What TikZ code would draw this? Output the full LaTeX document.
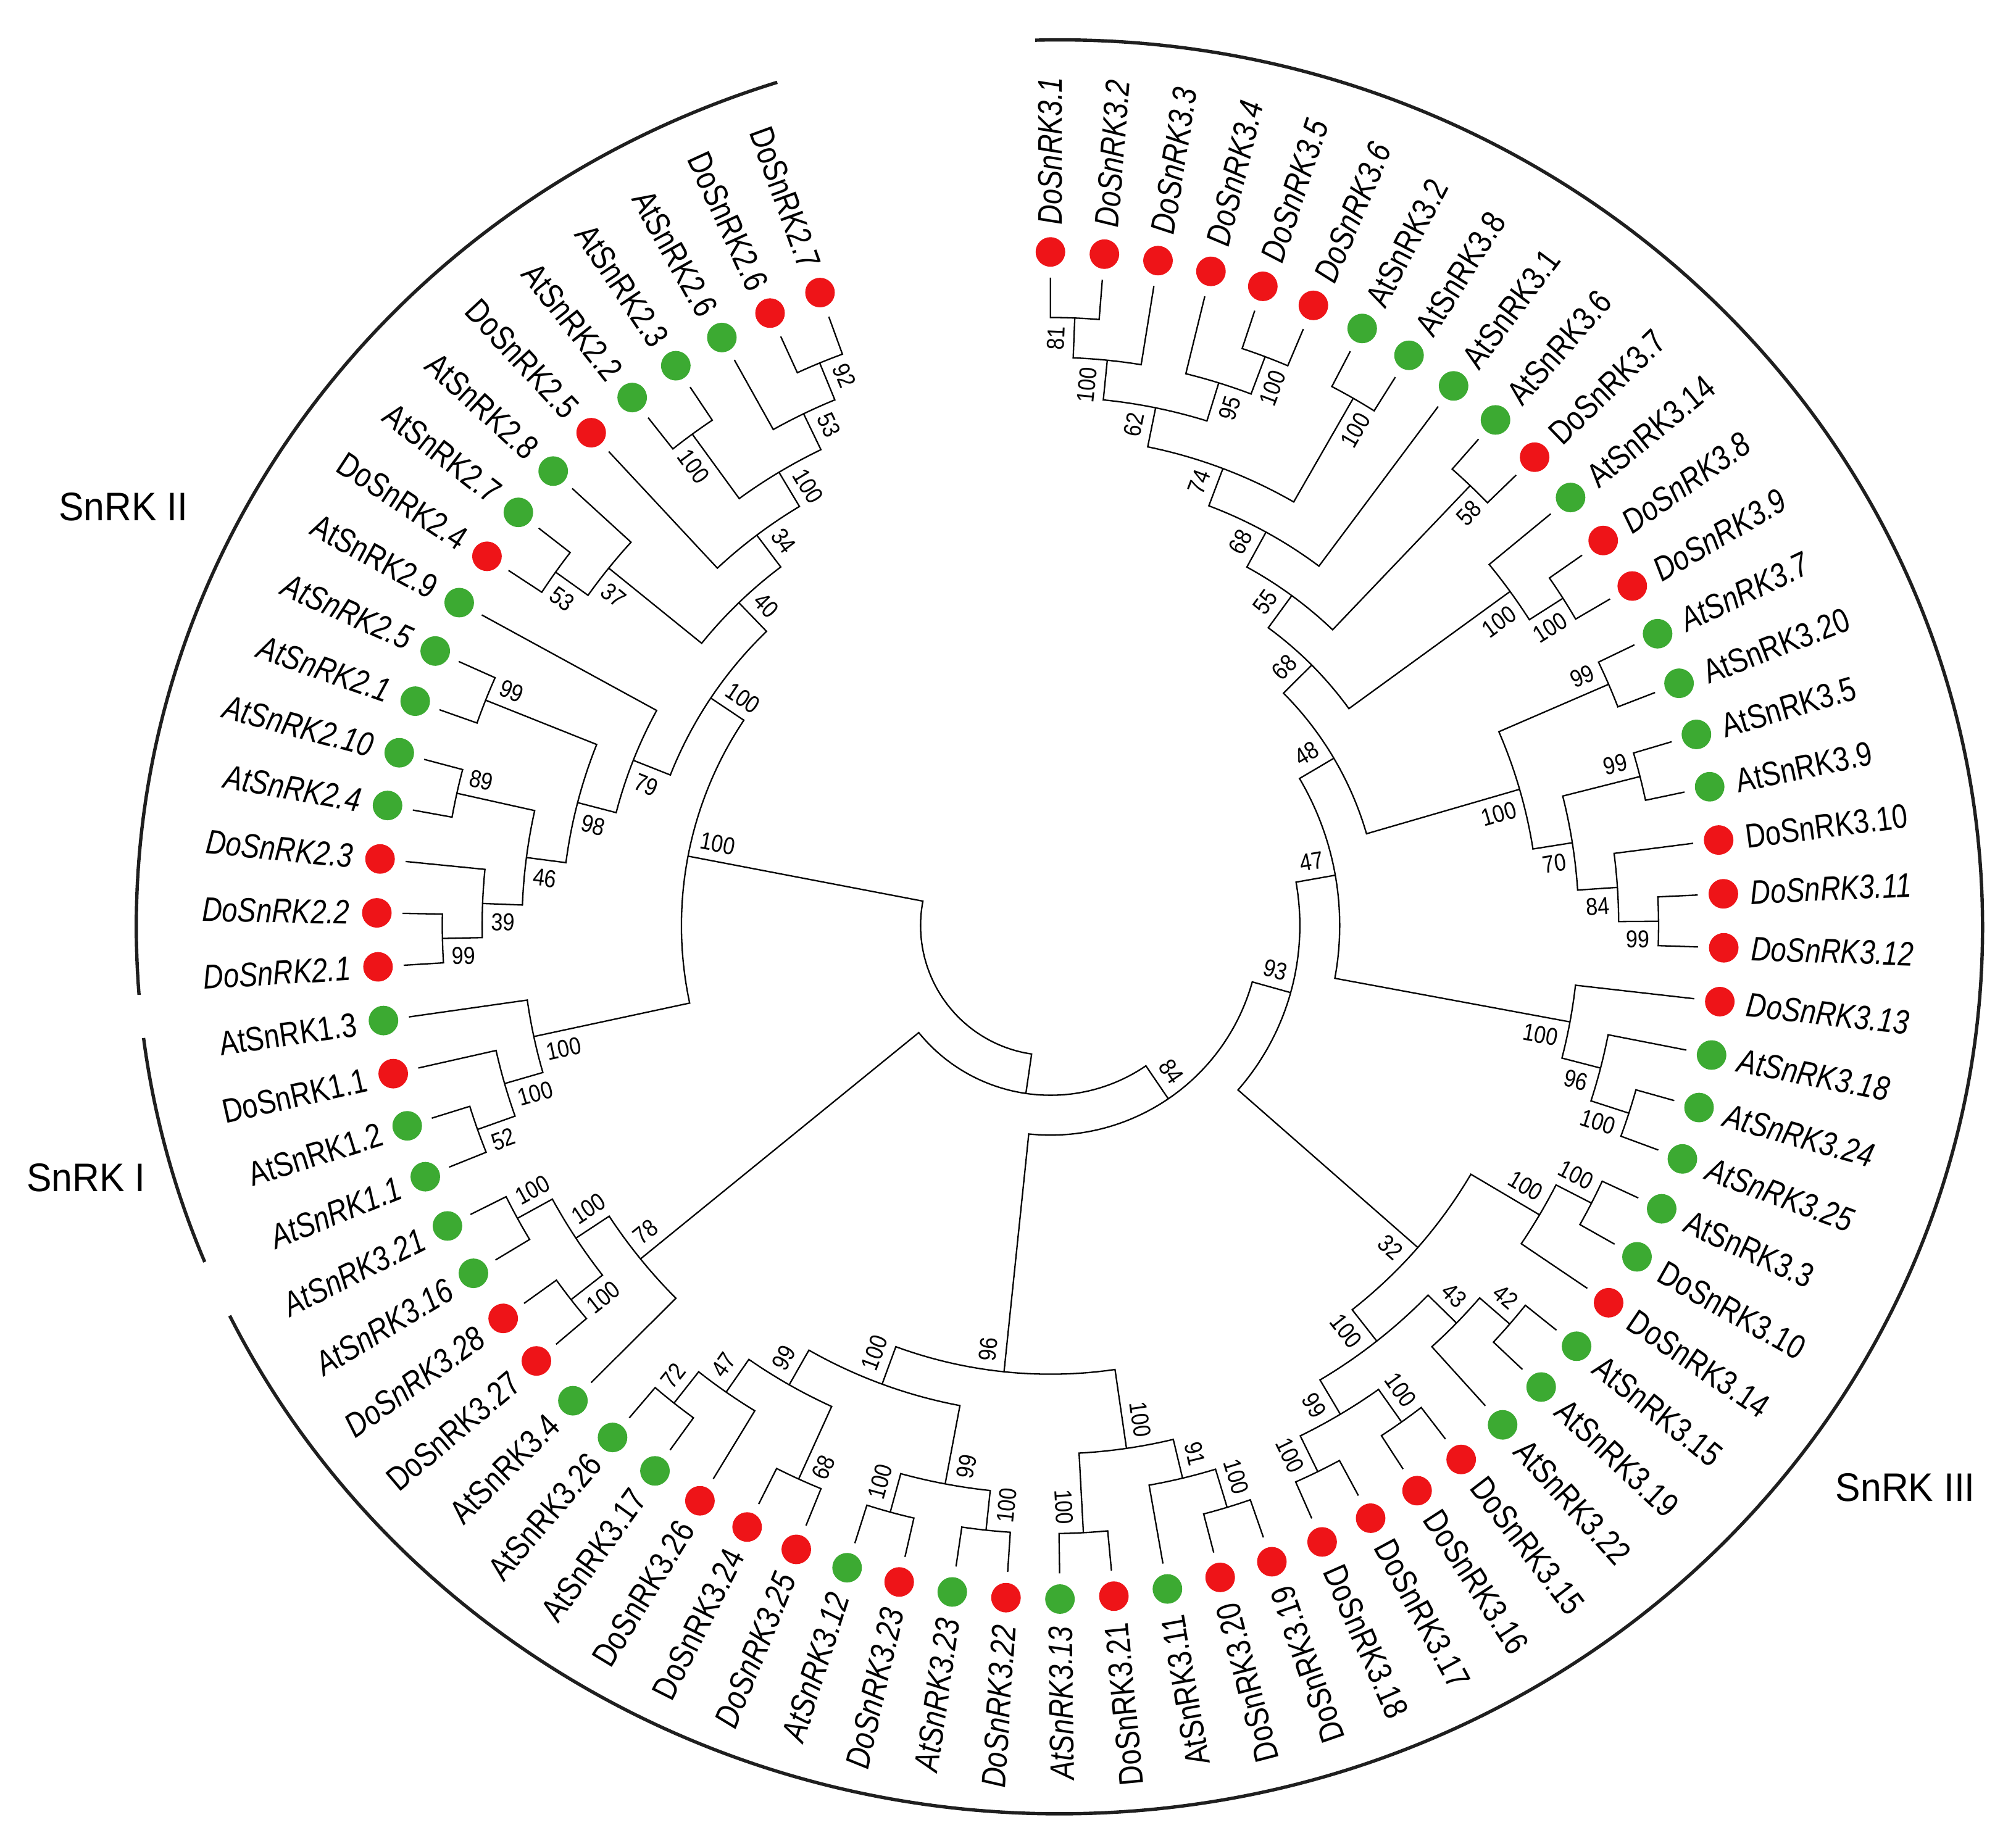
\documentclass[tikz,border=0pt]{standalone}
\usepackage{fontspec}
\setmainfont{Liberation Sans}
\newfontfamily\leaffont[FakeStretch=0.82]{Liberation Sans}
\newfontfamily\bsfont[FakeStretch=0.86]{Liberation Sans}
\newfontfamily\grpfont[FakeStretch=0.94]{Liberation Sans}
\definecolor{dotred}{RGB}{238,20,24}
\definecolor{dotgreen}{RGB}{60,170,50}
\tikzset{
  tree/.style={line width=1.1pt},
  leaf/.style={inner sep=0pt, font=\leaffont\fontsize{26.5}{30}\selectfont},
  bs/.style={inner sep=7pt, font=\bsfont\fontsize{19}{22}\selectfont},
  grp/.style={font=\grpfont\fontsize{31}{36}\selectfont},
  bracket/.style={line width=2.6pt, draw=black!88},
  dot/.style={circle, inner sep=0pt, minimum size=23pt, draw=none}
}
% join: parent radius, child1 angle, child1 radius, child2 angle, child2 radius
\newcommand\J[5]{\draw[tree] (#2:#3) -- (#2:#1) arc[start angle=#2, end angle=#4, radius=#1] -- (#4:#5);}
% bootstrap: name, angle, radius, value, side (c = counter-clockwise side, w = clockwise side)
\newcommand\B[5]{\ifdim #2pt<-90pt
    \if#5c\node[bs,rotate=#2+180,anchor=north west] (b#1) at (#2:#3) {#4};%
    \else\node[bs,rotate=#2+180,anchor=south west] (b#1) at (#2:#3) {#4};\fi
  \else
    \if#5c\node[bs,rotate=#2,anchor=south east] (b#1) at (#2:#3) {#4};%
    \else\node[bs,rotate=#2,anchor=north east] (b#1) at (#2:#3) {#4};\fi
  \fi}
% leaf: index, angle, colour, shape, text
\newcommand\Lf[5]{\node[dot,fill=#3] (d#1) at (#2:524) {};
  \ifdim #2pt<-68.5pt
    \node[leaf,rotate=#2+180,anchor=east] (l#1) at (#2:545) {#4#5};
  \else
    \node[leaf,rotate=#2,anchor=west] (l#1) at (#2:545) {#4#5};
  \fi}
\begin{document}
\begin{tikzpicture}[x=1pt,y=1pt]
\useasboundingbox (-817,-712) rectangle (751,720);
% ---------------- tree ----------------
\J{473}{90}{504}{85.405}{504}
\J{442}{87.703}{473}{80.811}{504}
\J{473}{71.622}{504}{67.027}{504}
\J{442}{76.216}{504}{69.324}{473}
\J{411}{84.257}{442}{72.770}{442}
\J{473}{62.432}{504}{57.838}{504}
\J{380}{78.514}{411}{60.135}{473}
\J{349}{69.324}{380}{53.243}{504}
\J{473}{48.649}{504}{44.054}{504}
\J{318}{61.284}{349}{46.351}{473}
\J{473}{34.865}{504}{30.270}{504}
\J{442}{39.459}{504}{32.568}{473}
\J{287}{53.818}{318}{36.014}{442}
\J{473}{25.676}{504}{21.081}{504}
\J{473}{16.486}{504}{11.892}{504}
\J{473}{2.703}{504}{-1.892}{504}
\J{442}{7.297}{504}{0.405}{473}
\J{411}{14.189}{473}{3.851}{442}
\J{380}{23.378}{473}{9.020}{411}
\J{256}{44.916}{287}{16.199}{380}
\J{473}{-15.676}{504}{-20.270}{504}
\J{442}{-11.081}{504}{-17.973}{473}
\J{411}{-6.486}{504}{-14.527}{442}
\J{225}{30.558}{256}{-10.507}{411}
\J{473}{-24.865}{504}{-29.459}{504}
\J{442}{-27.162}{473}{-34.054}{504}
\J{473}{-38.649}{504}{-43.243}{504}
\J{442}{-40.946}{473}{-47.838}{504}
\J{473}{-52.432}{504}{-57.027}{504}
\J{473}{-61.622}{504}{-66.216}{504}
\J{442}{-54.730}{473}{-63.919}{473}
\J{411}{-44.392}{442}{-59.324}{442}
\J{380}{-30.608}{442}{-51.858}{411}
\J{194}{10.026}{225}{-41.233}{380}
\J{473}{-70.811}{504}{-75.405}{504}
\J{442}{-73.108}{473}{-80.000}{504}
\J{473}{-84.595}{504}{-89.189}{504}
\J{411}{-76.554}{442}{-86.892}{473}
\J{473}{-93.784}{504}{-98.378}{504}
\J{473}{-102.973}{504}{-107.568}{504}
\J{442}{-96.081}{473}{-105.270}{473}
\J{473}{-112.162}{504}{-116.757}{504}
\J{473}{-125.946}{504}{-130.541}{504}
\J{442}{-121.351}{504}{-128.243}{473}
\J{411}{-114.459}{473}{-124.797}{442}
\J{380}{-100.676}{442}{-119.628}{411}
\J{349}{-81.723}{411}{-110.152}{380}
\J{163}{-15.603}{194}{-95.937}{349}
\J{473}{-139.730}{504}{-144.324}{504}
\J{473}{-148.919}{504}{-153.514}{504}
\J{442}{-142.027}{473}{-151.216}{473}
\J{411}{-135.135}{504}{-146.622}{442}
\J{132}{-55.770}{163}{-140.878}{411}
\J{473}{-158.108}{504}{-162.703}{504}
\J{442}{-167.297}{504}{-160.405}{473}
\J{411}{-171.892}{504}{-163.851}{442}
\J{473}{-176.486}{504}{-181.081}{504}
\J{442}{-185.676}{504}{-178.784}{473}
\J{473}{-190.270}{504}{-194.865}{504}
\J{411}{-192.568}{473}{-182.230}{442}
\J{473}{-199.459}{504}{-204.054}{504}
\J{380}{-201.757}{473}{-187.399}{411}
\J{349}{-208.649}{504}{-194.578}{380}
\J{473}{-213.243}{504}{-217.838}{504}
\J{442}{-215.541}{473}{-222.432}{504}
\J{473}{-245.405}{504}{-250}{504}
\J{442}{-240.811}{504}{-247.703}{473}
\J{473}{-231.622}{504}{-236.216}{504}
\J{411}{-233.919}{473}{-244.257}{442}
\J{380}{-227.027}{504}{-239.088}{411}
\J{349}{-218.987}{442}{-233.058}{380}
\J{318}{-201.614}{349}{-226.023}{349}
\J{287}{-167.871}{411}{-213.819}{318}
\J{101}{-98.324}{132}{-190.845}{287}
% ---------------- bootstrap values ----------------
\B{A}{87.703}{473}{81}{c}
\B{B}{84.257}{442}{100}{c}
\B{C}{69.324}{473}{100}{w}
\B{D}{72.770}{442}{95}{w}
\B{E}{78.514}{411}{62}{c}
\B{G}{60.135}{473}{100}{w}
\B{F}{69.324}{380}{74}{c}
\B{H}{61.284}{349}{68}{c}
\B{K}{46.351}{473}{58}{w}
\B{Jn}{53.818}{318}{55}{c}
\B{M}{32.568}{473}{100}{w}
\B{N}{36.014}{442}{100}{w}
\B{O}{44.916}{287}{68}{c}
\B{P}{23.378}{473}{99}{c}
\B{S}{14.189}{473}{99}{c}
\B{U}{0.405}{473}{99}{w}
\B{T}{3.851}{442}{84}{w}
\B{R}{9.020}{411}{70}{w}
\B{Q}{16.199}{380}{100}{w}
\B{Nf}{30.558}{256}{48}{c}
\B{AA}{-17.973}{473}{100}{w}
\B{AB}{-14.527}{442}{96}{w}
\B{AC}{-10.507}{411}{100}{w}
\B{ZZ}{10.026}{225}{47}{c}
\B{AD}{-27.162}{473}{100}{c}
\B{AE}{-30.608}{442}{100}{c}
\B{AG}{-40.946}{473}{42}{c}
\B{AH}{-44.392}{442}{43}{c}
\B{CA}{-54.730}{473}{100}{c}
\B{CB}{-63.919}{473}{100}{w}
\B{CC}{-59.324}{442}{99}{w}
\B{CD}{-51.858}{411}{100}{w}
\B{AF}{-41.233}{380}{32}{w}
\B{Z}{-15.603}{194}{93}{c}
\B{BN}{-73.108}{473}{100}{c}
\B{BM}{-76.554}{442}{91}{c}
\B{BL}{-86.892}{473}{100}{w}
\B{BD}{-81.723}{411}{100}{c}
\B{BG}{-96.081}{473}{100}{c}
\B{BF}{-105.270}{473}{100}{w}
\B{BE}{-100.676}{442}{99}{c}
\B{BI}{-114.459}{473}{68}{c}
\B{BK}{-128.243}{473}{72}{w}
\B{BJ}{-124.797}{442}{47}{w}
\B{BH}{-119.628}{411}{99}{w}
\B{BC}{-110.152}{380}{100}{w}
\B{BB}{-95.937}{349}{96}{w}
\B{Y}{-55.770}{163}{84}{c}
\B{XPa}{-142.027}{473}{100}{c}
\B{XPb}{-151.216}{473}{100}{w}
\B{XB}{-146.622}{442}{100}{w}
\B{X}{-140.878}{411}{78}{w}
\B{SIa}{-160.405}{473}{52}{c}
\B{SIb}{-163.851}{442}{100}{c}
\B{SI}{-167.871}{411}{100}{c}
\B{Na}{-178.784}{473}{99}{c}
\B{Nb}{-182.230}{442}{39}{c}
\B{Nc}{-192.568}{473}{89}{w}
\B{Nd}{-187.399}{411}{46}{c}
\B{Ne}{-201.757}{473}{99}{w}
\B{Ng}{-194.578}{380}{98}{c}
\B{Nh}{-201.614}{349}{79}{c}
\B{Ni}{-215.541}{473}{53}{c}
\B{Nj}{-218.987}{442}{37}{c}
\B{Nk}{-247.703}{473}{92}{w}
\B{Nl}{-244.257}{442}{53}{w}
\B{Nm}{-233.919}{473}{100}{c}
\B{Nn}{-239.088}{411}{100}{w}
\B{No}{-233.058}{380}{34}{w}
\B{Np}{-226.023}{349}{40}{w}
\B{SII}{-213.819}{318}{100}{w}
\B{SIII}{-190.845}{287}{100}{w}
% ---------------- leaves ----------------
\Lf{1}{90}{dotred}{\itshape}{DoSnRK3.1}
\Lf{2}{85.405}{dotred}{\itshape}{DoSnRK3.2}
\Lf{3}{80.811}{dotred}{\itshape}{DoSnRK3.3}
\Lf{4}{76.216}{dotred}{\itshape}{DoSnRK3.4}
\Lf{5}{71.622}{dotred}{\itshape}{DoSnRK3.5}
\Lf{6}{67.027}{dotred}{\itshape}{DoSnRK3.6}
\Lf{7}{62.432}{dotgreen}{\upshape}{AtSnRK3.2}
\Lf{8}{57.838}{dotgreen}{\upshape}{AtSnRK3.8}
\Lf{9}{53.243}{dotgreen}{\upshape}{AtSnRK3.1}
\Lf{10}{48.649}{dotgreen}{\upshape}{AtSnRK3.6}
\Lf{11}{44.054}{dotred}{\upshape}{DoSnRK3.7}
\Lf{12}{39.459}{dotgreen}{\upshape}{AtSnRK3.14}
\Lf{13}{34.865}{dotred}{\itshape}{DoSnRK3.8}
\Lf{14}{30.270}{dotred}{\itshape}{DoSnRK3.9}
\Lf{15}{25.676}{dotgreen}{\itshape}{AtSnRK3.7}
\Lf{16}{21.081}{dotgreen}{\upshape}{AtSnRK3.20}
\Lf{17}{16.486}{dotgreen}{\upshape}{AtSnRK3.5}
\Lf{18}{11.892}{dotgreen}{\upshape}{AtSnRK3.9}
\Lf{19}{7.297}{dotred}{\upshape}{DoSnRK3.10}
\Lf{20}{2.703}{dotred}{\itshape}{DoSnRK3.11}
\Lf{21}{-1.892}{dotred}{\itshape}{DoSnRK3.12}
\Lf{22}{-6.486}{dotred}{\itshape}{DoSnRK3.13}
\Lf{23}{-11.081}{dotgreen}{\itshape}{AtSnRK3.18}
\Lf{24}{-15.676}{dotgreen}{\itshape}{AtSnRK3.24}
\Lf{25}{-20.270}{dotgreen}{\itshape}{AtSnRK3.25}
\Lf{26}{-24.865}{dotgreen}{\upshape}{AtSnRK3.3}
\Lf{27}{-29.459}{dotgreen}{\upshape}{DoSnRK3.10}
\Lf{28}{-34.054}{dotred}{\upshape}{DoSnRK3.14}
\Lf{29}{-38.649}{dotgreen}{\upshape}{AtSnRK3.15}
\Lf{30}{-43.243}{dotgreen}{\upshape}{AtSnRK3.19}
\Lf{31}{-47.838}{dotgreen}{\upshape}{AtSnRK3.22}
\Lf{32}{-52.432}{dotred}{\upshape}{DoSnRK3.15}
\Lf{33}{-57.027}{dotred}{\upshape}{DoSnRK3.16}
\Lf{34}{-61.622}{dotred}{\upshape}{DoSnRK3.17}
\Lf{35}{-66.216}{dotred}{\upshape}{DoSnRK3.18}
\Lf{36}{-70.811}{dotred}{\upshape}{DoSnRK3.19}
\Lf{37}{-75.405}{dotred}{\upshape}{DoSnRK3.20}
\Lf{38}{-80.000}{dotgreen}{\upshape}{AtSnRK3.11}
\Lf{39}{-84.595}{dotred}{\upshape}{DoSnRK3.21}
\Lf{40}{-89.189}{dotgreen}{\itshape}{AtSnRK3.13}
\Lf{41}{-93.784}{dotred}{\itshape}{DoSnRK3.22}
\Lf{42}{-98.378}{dotgreen}{\itshape}{AtSnRK3.23}
\Lf{43}{-102.973}{dotred}{\itshape}{DoSnRK3.23}
\Lf{44}{-107.568}{dotgreen}{\itshape}{AtSnRK3.12}
\Lf{45}{-112.162}{dotred}{\itshape}{DoSnRK3.25}
\Lf{46}{-116.757}{dotred}{\upshape}{DoSnRK3.24}
\Lf{47}{-121.351}{dotred}{\upshape}{DoSnRK3.26}
\Lf{48}{-125.946}{dotgreen}{\upshape}{AtSnRK3.17}
\Lf{49}{-130.541}{dotgreen}{\upshape}{AtSnRK3.26}
\Lf{50}{-135.135}{dotgreen}{\upshape}{AtSnRK3.4}
\Lf{51}{-139.730}{dotred}{\upshape}{DoSnRK3.27}
\Lf{52}{-144.324}{dotred}{\itshape}{DoSnRK3.28}
\Lf{53}{-148.919}{dotgreen}{\itshape}{AtSnRK3.16}
\Lf{54}{-153.514}{dotgreen}{\itshape}{AtSnRK3.21}
\Lf{55}{-158.108}{dotgreen}{\itshape}{AtSnRK1.1}
\Lf{56}{-162.703}{dotgreen}{\upshape}{AtSnRK1.2}
\Lf{57}{-167.297}{dotred}{\upshape}{DoSnRK1.1}
\Lf{58}{-171.892}{dotgreen}{\upshape}{AtSnRK1.3}
\Lf{59}{-176.486}{dotred}{\itshape}{DoSnRK2.1}
\Lf{60}{-181.081}{dotred}{\itshape}{DoSnRK2.2}
\Lf{61}{-185.676}{dotred}{\itshape}{DoSnRK2.3}
\Lf{62}{-190.270}{dotgreen}{\itshape}{AtSnRK2.4}
\Lf{63}{-194.865}{dotgreen}{\itshape}{AtSnRK2.10}
\Lf{64}{-199.459}{dotgreen}{\itshape}{AtSnRK2.1}
\Lf{65}{-204.054}{dotgreen}{\itshape}{AtSnRK2.5}
\Lf{66}{-208.649}{dotgreen}{\upshape}{AtSnRK2.9}
\Lf{67}{-213.243}{dotred}{\upshape}{DoSnRK2.4}
\Lf{68}{-217.838}{dotgreen}{\upshape}{AtSnRK2.7}
\Lf{69}{-222.432}{dotgreen}{\upshape}{AtSnRK2.8}
\Lf{70}{-227.027}{dotred}{\upshape}{DoSnRK2.5}
\Lf{71}{-231.622}{dotgreen}{\upshape}{AtSnRK2.2}
\Lf{72}{-236.216}{dotgreen}{\upshape}{AtSnRK2.3}
\Lf{73}{-240.811}{dotgreen}{\upshape}{AtSnRK2.6}
\Lf{74}{-245.405}{dotred}{\upshape}{DoSnRK2.6}
\Lf{75}{-250}{dotred}{\upshape}{DoSnRK2.7}
% ---------------- clade brackets ----------------
\draw[bracket] (7,-1) ++(91.5:718 and 690) arc[start angle=91.5, end angle=-154, x radius=718, y radius=690];
\draw[bracket] (7,-1) ++(187.2:718 and 690) arc[start angle=187.2, end angle=202.2, x radius=718, y radius=690];
\draw[bracket] (7,-1) ++(107.8:718 and 690) arc[start angle=107.8, end angle=184.4, x radius=718, y radius=690];
\node[grp] (g2) at (-721,325.5) {SnRK II};
\node[grp] (g1) at (-750,-196) {SnRK I};
\node[grp] (g3) at (665,-437) {SnRK III};
\end{tikzpicture}
\end{document}
